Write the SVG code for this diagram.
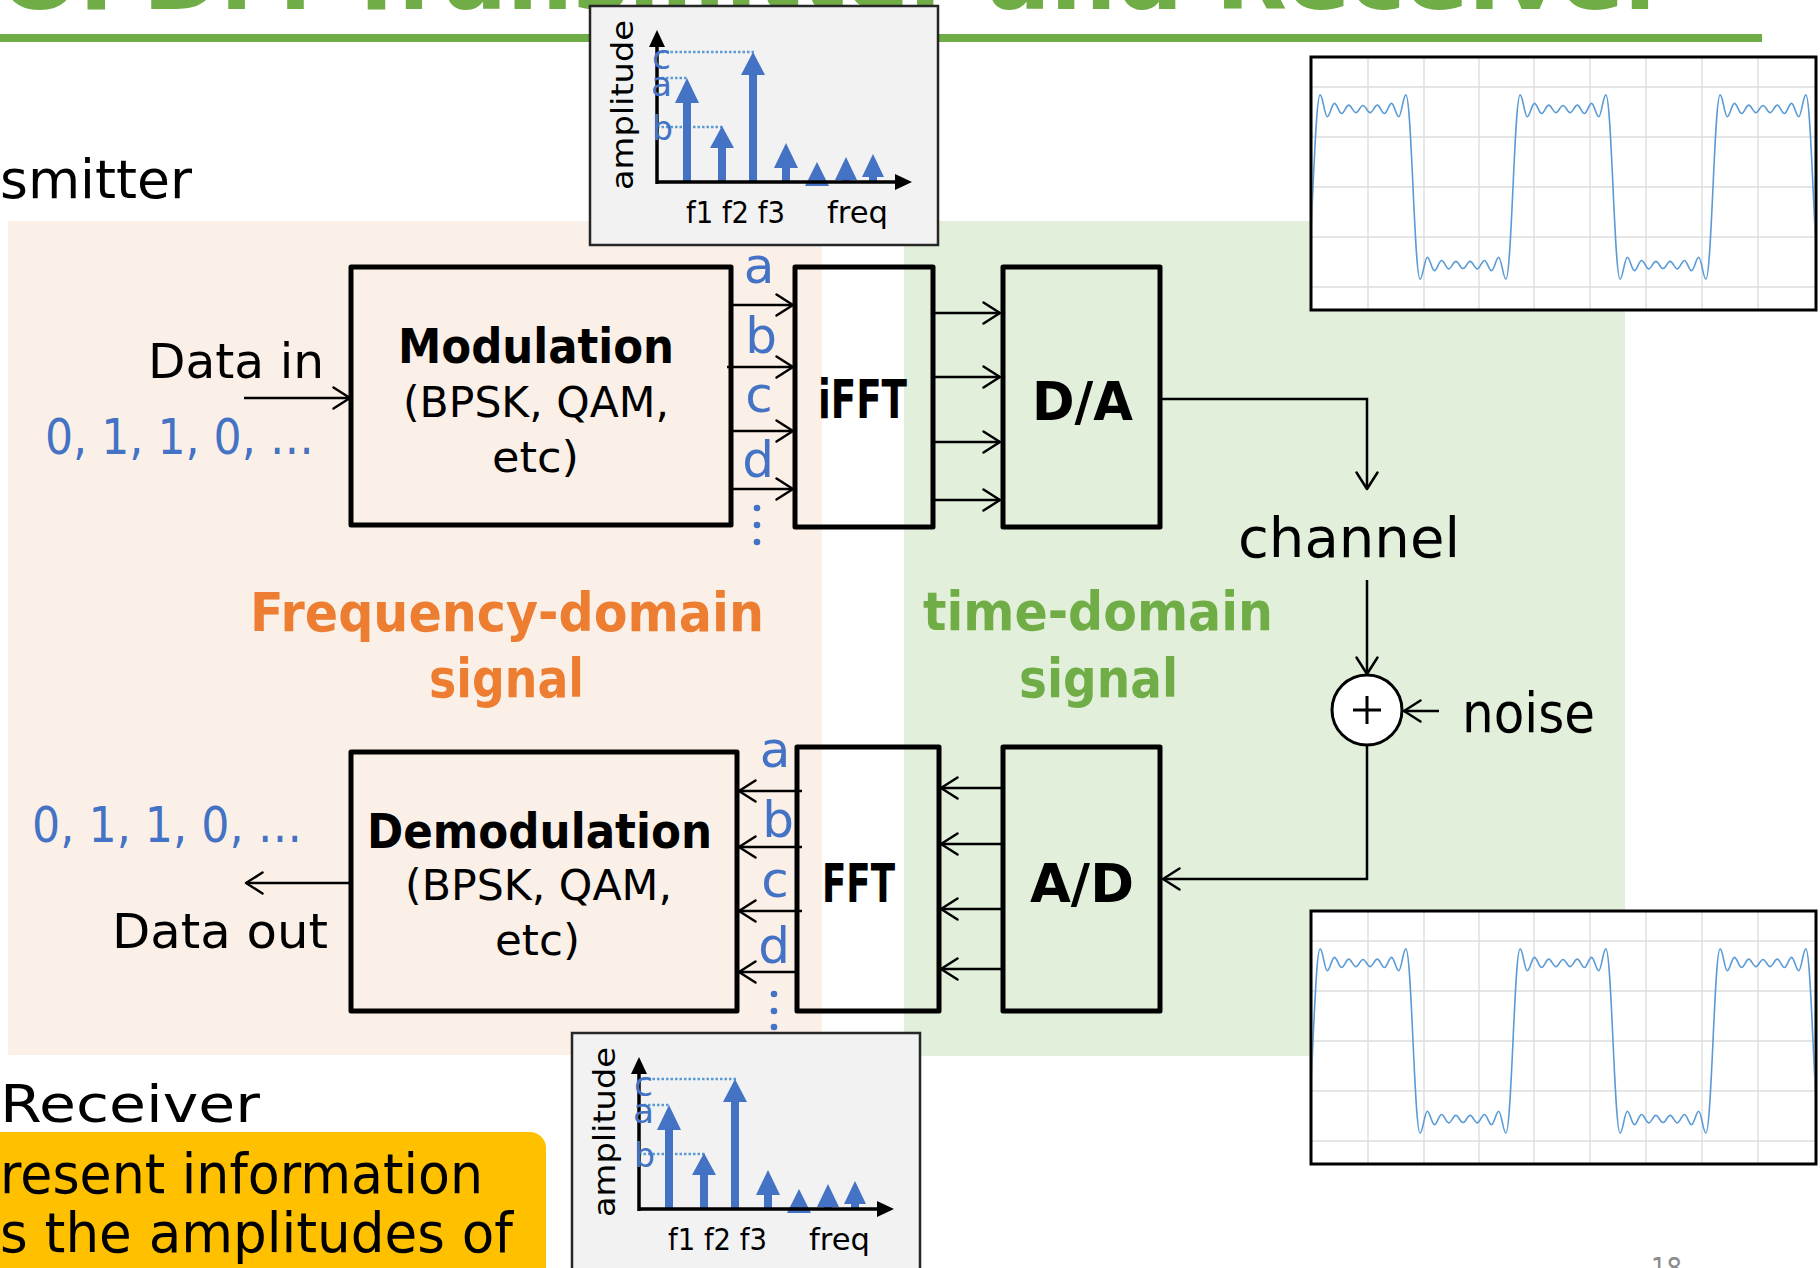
<svg xmlns="http://www.w3.org/2000/svg" xmlns:xlink="http://www.w3.org/1999/xlink" width="1820" height="1268" viewBox="0 0 1820 1268">
  <style>
    .t { font-family: "DejaVu Sans", "Liberation Sans", sans-serif; fill: #000; }
    .b { font-weight: bold; }
    .blue { fill: #4472C4; }
    .box { fill: none; stroke: #000; stroke-width: 5; stroke-linejoin: round; }
    .wire { fill: none; stroke: #000; stroke-width: 2.5; }
    .arr { fill: none; stroke: #000; stroke-width: 2.5; marker-end: url(#chev); }
    .spec { fill: #4472C4; }
  </style>
  <defs>
    <marker id="chev" viewBox="0 0 22 24" markerWidth="22" markerHeight="24" refX="18" refY="12" orient="auto" markerUnits="userSpaceOnUse" overflow="visible">
      <path d="M1.5,1.5 L18,12 L1.5,22.5" fill="none" stroke="#000" stroke-width="2.5" stroke-linecap="round" stroke-linejoin="round"/>
    </marker>
    <clipPath id="waveClip" clipPathUnits="userSpaceOnUse">
      <rect x="1312.5" y="58.5" width="502" height="250"/>
    </clipPath>
    <!-- one period of a 7-harmonic square-wave partial sum, origin at the centre line -->
    <path id="wavePeriod" d="M0,92.1 c5.9,0 8.386,-184.2 14.286,-184.2
      c2.6,0 4.543,21.9 7.143,21.9 c2.6,0 4.543,-13.4 7.143,-13.4 c2.6,0 4.543,10.1 7.143,10.1
      c2.6,0 4.543,-8.4 7.143,-8.4 c2.6,0 4.543,7.5 7.143,7.5 c2.6,0 4.543,-7.1 7.143,-7.1
      c2.6,0 4.543,7.1 7.143,7.1 c2.6,0 4.543,-7.5 7.143,-7.5 c2.6,0 4.543,8.4 7.143,8.4
      c2.6,0 4.543,-10.1 7.143,-10.1 c2.6,0 4.543,13.4 7.143,13.4 c2.6,0 4.543,-21.9 7.143,-21.9
      c5.9,0 8.386,184.2 14.286,184.2
      c2.6,0 4.543,-21.9 7.143,-21.9 c2.6,0 4.543,13.4 7.143,13.4 c2.6,0 4.543,-10.1 7.143,-10.1
      c2.6,0 4.543,8.4 7.143,8.4 c2.6,0 4.543,-7.5 7.143,-7.5 c2.6,0 4.543,7.1 7.143,7.1
      c2.6,0 4.543,-7.1 7.143,-7.1 c2.6,0 4.543,7.5 7.143,7.5 c2.6,0 4.543,-8.4 7.143,-8.4
      c2.6,0 4.543,10.1 7.143,10.1 c2.6,0 4.543,-13.4 7.143,-13.4 c2.6,0 4.543,21.9 7.143,21.9"
      fill="none" stroke="#5B9BD5" stroke-width="1.6" stroke-linejoin="round"/>

    <!-- time-domain plot -->
    <g id="waveBox">
      <rect x="1311" y="57" width="505" height="253" fill="#fff"/>
      <path d="M1368,58 V309 M1424,58 V309 M1479,58 V309 M1534,58 V309 M1590,58 V309 M1646,58 V309 M1702,58 V309 M1758,58 V309
               M1312,87 H1815 M1312,137 H1815 M1312,187 H1815 M1312,237 H1815 M1312,287 H1815"
            stroke="#DDDDDD" stroke-width="1.4" fill="none"/>
      <g clip-path="url(#waveClip)">
        <use xlink:href="#wavePeriod" href="#wavePeriod" transform="translate(1305.857,187)"/>
        <use xlink:href="#wavePeriod" href="#wavePeriod" transform="translate(1505.857,187)"/>
        <use xlink:href="#wavePeriod" href="#wavePeriod" transform="translate(1705.857,187)"/>
      </g>
      <rect x="1311" y="57" width="505" height="253" fill="none" stroke="#000" stroke-width="3"/>
    </g>

    <!-- frequency-domain plot -->
    <g id="spectrum">
      <rect x="590" y="6" width="348" height="239" fill="#F2F2F2" stroke="#262626" stroke-width="2.5"/>
      <path d="M657,52 H755 M657,78 H687 M657,127 H723" stroke="#5B9BD5" stroke-width="2.5" stroke-dasharray="2.5 2" fill="none"/>
      <g class="spec">
        <rect x="683" y="100" width="8" height="82"/><polygon points="687,78 675,103 699,103"/>
        <rect x="718" y="145" width="8" height="37"/><polygon points="722,126 710,148 734,148"/>
        <rect x="749" y="72" width="8" height="110"/><polygon points="753,52 741,75 765,75"/>
        <rect x="782" y="165" width="8" height="17"/><polygon points="786,143 774,168 798,168"/>
        <polygon points="817,162 805,186 829,186"/>
        <rect x="842" y="178" width="8" height="5"/><polygon points="846,157 835,180 857,180"/>
        <rect x="869" y="175" width="8" height="8"/><polygon points="873,154 862,177 884,177"/>
      </g>
      <path d="M657,184 V44 M655.5,182 H896" stroke="#000" stroke-width="3.5" fill="none"/>
      <polygon points="657,30 649,47 665,47" fill="#000"/>
      <polygon points="912,182 895,174 895,190" fill="#000"/>
      <g class="t blue" font-size="34">
        <text x="652" y="69" textLength="19" lengthAdjust="spacingAndGlyphs">c</text>
        <text x="651" y="96" textLength="21" lengthAdjust="spacingAndGlyphs">a</text>
        <text x="652" y="140" textLength="21" lengthAdjust="spacingAndGlyphs">b</text>
      </g>
      <text class="t" font-size="30" text-anchor="middle" textLength="170" lengthAdjust="spacingAndGlyphs" transform="translate(633,105) rotate(-90)">amplitude</text>
      <text class="t" x="686" y="223" font-size="30" textLength="99" lengthAdjust="spacingAndGlyphs">f1 f2 f3</text>
      <text class="t" x="827" y="223" font-size="30" textLength="61" lengthAdjust="spacingAndGlyphs">freq</text>
    </g>
  </defs>

  <!-- backdrop -->
  <rect x="0" y="0" width="1820" height="1268" fill="#fff"/>
  <rect x="8" y="221" width="814" height="834" fill="#FBF0E8"/>
  <rect x="904" y="221" width="721" height="835" fill="#E2EFDA"/>

  <!-- heading -->
  <text class="t b" x="0" y="9" font-size="86" fill="#70AD47" style="fill:#70AD47" textLength="1670" lengthAdjust="spacingAndGlyphs">OFDM Transmitter and Receiver</text>
  <path d="M0,38 H1762" stroke="#70AD47" stroke-width="8"/>
  <text class="t" x="0" y="198" font-size="54" textLength="192" lengthAdjust="spacingAndGlyphs">smitter</text>

  <!-- plots -->
  <g id="spectrum-tx"><use xlink:href="#spectrum" href="#spectrum"/></g>
  <g id="spectrum-rx"><use xlink:href="#spectrum" href="#spectrum" transform="translate(-18,1027)"/></g>
  <g id="wave-tx"><use xlink:href="#waveBox" href="#waveBox"/></g>
  <g id="wave-rx"><use xlink:href="#waveBox" href="#waveBox" transform="translate(0,854)"/></g>

  <!-- domain captions -->
  <g class="t b" font-size="54">
    <text x="250" y="631" textLength="514" lengthAdjust="spacingAndGlyphs" style="fill:#ED7D31">Frequency-domain</text>
    <text x="429" y="697" textLength="155" lengthAdjust="spacingAndGlyphs" style="fill:#ED7D31">signal</text>
    <text x="923" y="630" textLength="350" lengthAdjust="spacingAndGlyphs" style="fill:#70AD47">time-domain</text>
    <text x="1019" y="697" textLength="159" lengthAdjust="spacingAndGlyphs" style="fill:#70AD47">signal</text>
  </g>

  <!-- transmitter chain -->
  <g id="modulation">
    <rect class="box" x="351" y="267" width="380" height="258"/>
    <text class="t b" x="536" y="363" font-size="48" text-anchor="middle" textLength="276" lengthAdjust="spacingAndGlyphs">Modulation</text>
    <text class="t" x="536" y="417" font-size="42" text-anchor="middle" textLength="266" lengthAdjust="spacingAndGlyphs">(BPSK, QAM,</text>
    <text class="t" x="535.5" y="472" font-size="42" text-anchor="middle" textLength="87" lengthAdjust="spacingAndGlyphs">etc)</text>
  </g>
  <g id="ifft">
    <rect class="box" x="795" y="267" width="138" height="260"/>
    <text class="t b" x="818" y="418" font-size="54" textLength="89" lengthAdjust="spacingAndGlyphs">iFFT</text>
  </g>
  <g id="dac">
    <rect class="box" x="1003" y="267" width="157" height="260"/>
    <text class="t b" x="1032" y="420" font-size="54" textLength="101" lengthAdjust="spacingAndGlyphs">D/A</text>
  </g>

  <!-- receiver chain -->
  <g id="demodulation">
    <rect class="box" x="351" y="752" width="386" height="259"/>
    <text class="t b" x="367" y="848" font-size="48" textLength="345" lengthAdjust="spacingAndGlyphs">Demodulation</text>
    <text class="t" x="405" y="900" font-size="42" textLength="267" lengthAdjust="spacingAndGlyphs">(BPSK, QAM,</text>
    <text class="t" x="495" y="955" font-size="42" textLength="85" lengthAdjust="spacingAndGlyphs">etc)</text>
  </g>
  <g id="fft">
    <rect class="box" x="797" y="747" width="142" height="264"/>
    <text class="t b" x="822" y="902" font-size="54" textLength="73" lengthAdjust="spacingAndGlyphs">FFT</text>
  </g>
  <g id="adc">
    <rect class="box" x="1003" y="747" width="157" height="264"/>
    <text class="t b" x="1030" y="902" font-size="54" textLength="104" lengthAdjust="spacingAndGlyphs">A/D</text>
  </g>

  <!-- adder -->
  <g id="adder">
    <circle cx="1367" cy="710" r="35" fill="#fff" stroke="#000" stroke-width="3"/>
    <path d="M1353,710 H1381 M1367,696 V724" stroke="#000" stroke-width="3"/>
  </g>

  <!-- connectors -->
  <g id="connectors">
    <path class="arr" d="M244,398 H350"/>
    <path class="arr" d="M733,305 H793"/>
    <path class="arr" d="M727,367 H793"/>
    <path class="arr" d="M733,431 H793"/>
    <path class="arr" d="M733,489 H793"/>
    <path class="arr" d="M935,313 H1000"/>
    <path class="arr" d="M935,377 H1000"/>
    <path class="arr" d="M935,442 H1000"/>
    <path class="arr" d="M935,500 H1000"/>
    <path class="arr" d="M1160,399 H1367 V489"/>
    <path class="arr" d="M1367,580 V674"/>
    <path class="arr" d="M1439,711 H1404"/>
    <path class="arr" d="M1367,745 V879 H1163"/>
    <path class="arr" d="M1001,788 H941"/>
    <path class="arr" d="M1001,844 H941"/>
    <path class="arr" d="M1001,909 H941"/>
    <path class="arr" d="M1001,969 H941"/>
    <path class="arr" d="M802,791 H739"/>
    <path class="arr" d="M802,847 H739"/>
    <path class="arr" d="M802,911 H739"/>
    <path class="arr" d="M797,972 H739"/>
    <path class="arr" d="M351,883 H246"/>
  </g>

  <!-- subcarrier labels -->
  <g class="t blue" font-size="50" text-anchor="middle">
    <text x="759" y="283">a</text>
    <text x="761" y="353">b</text>
    <text x="759" y="412">c</text>
    <text x="758" y="477">d</text>
    <text x="775" y="767">a</text>
    <text x="778" y="837">b</text>
    <text x="775" y="897">c</text>
    <text x="774" y="963">d</text>
  </g>
  <g fill="#4472C4">
    <circle cx="757" cy="508" r="3.3"/><circle cx="757" cy="525" r="3.3"/><circle cx="757" cy="542" r="3.3"/>
    <circle cx="774" cy="994" r="3.3"/><circle cx="774" cy="1011" r="3.3"/><circle cx="774" cy="1027" r="3.3"/>
  </g>

  <!-- side labels -->
  <text class="t" x="148" y="378" font-size="48" textLength="176" lengthAdjust="spacingAndGlyphs">Data in</text>
  <text class="t blue" x="45" y="454" font-size="50" textLength="269" lengthAdjust="spacingAndGlyphs">0, 1, 1, 0, …</text>
  <text class="t blue" x="32" y="842" font-size="50" textLength="270" lengthAdjust="spacingAndGlyphs">0, 1, 1, 0, …</text>
  <text class="t" x="112" y="948" font-size="48" textLength="216" lengthAdjust="spacingAndGlyphs">Data out</text>
  <text class="t" x="1238" y="557" font-size="56" textLength="222" lengthAdjust="spacingAndGlyphs">channel</text>
  <text class="t" x="1462" y="732" font-size="56" textLength="133" lengthAdjust="spacingAndGlyphs">noise</text>

  <!-- footer -->
  <text class="t" x="0" y="1122" font-size="52" textLength="260" lengthAdjust="spacingAndGlyphs">Receiver</text>
  <rect x="-30" y="1132" width="576" height="180" rx="16" fill="#FFC000"/>
  <text class="t" x="0" y="1193" font-size="56" textLength="483" lengthAdjust="spacingAndGlyphs">resent information</text>
  <text class="t" x="0" y="1252" font-size="56" textLength="513" lengthAdjust="spacingAndGlyphs">s the amplitudes of</text>
  <text class="t" x="1651" y="1279" font-size="30" style="fill:#8C8C8C" textLength="31" lengthAdjust="spacingAndGlyphs">18</text>
</svg>
